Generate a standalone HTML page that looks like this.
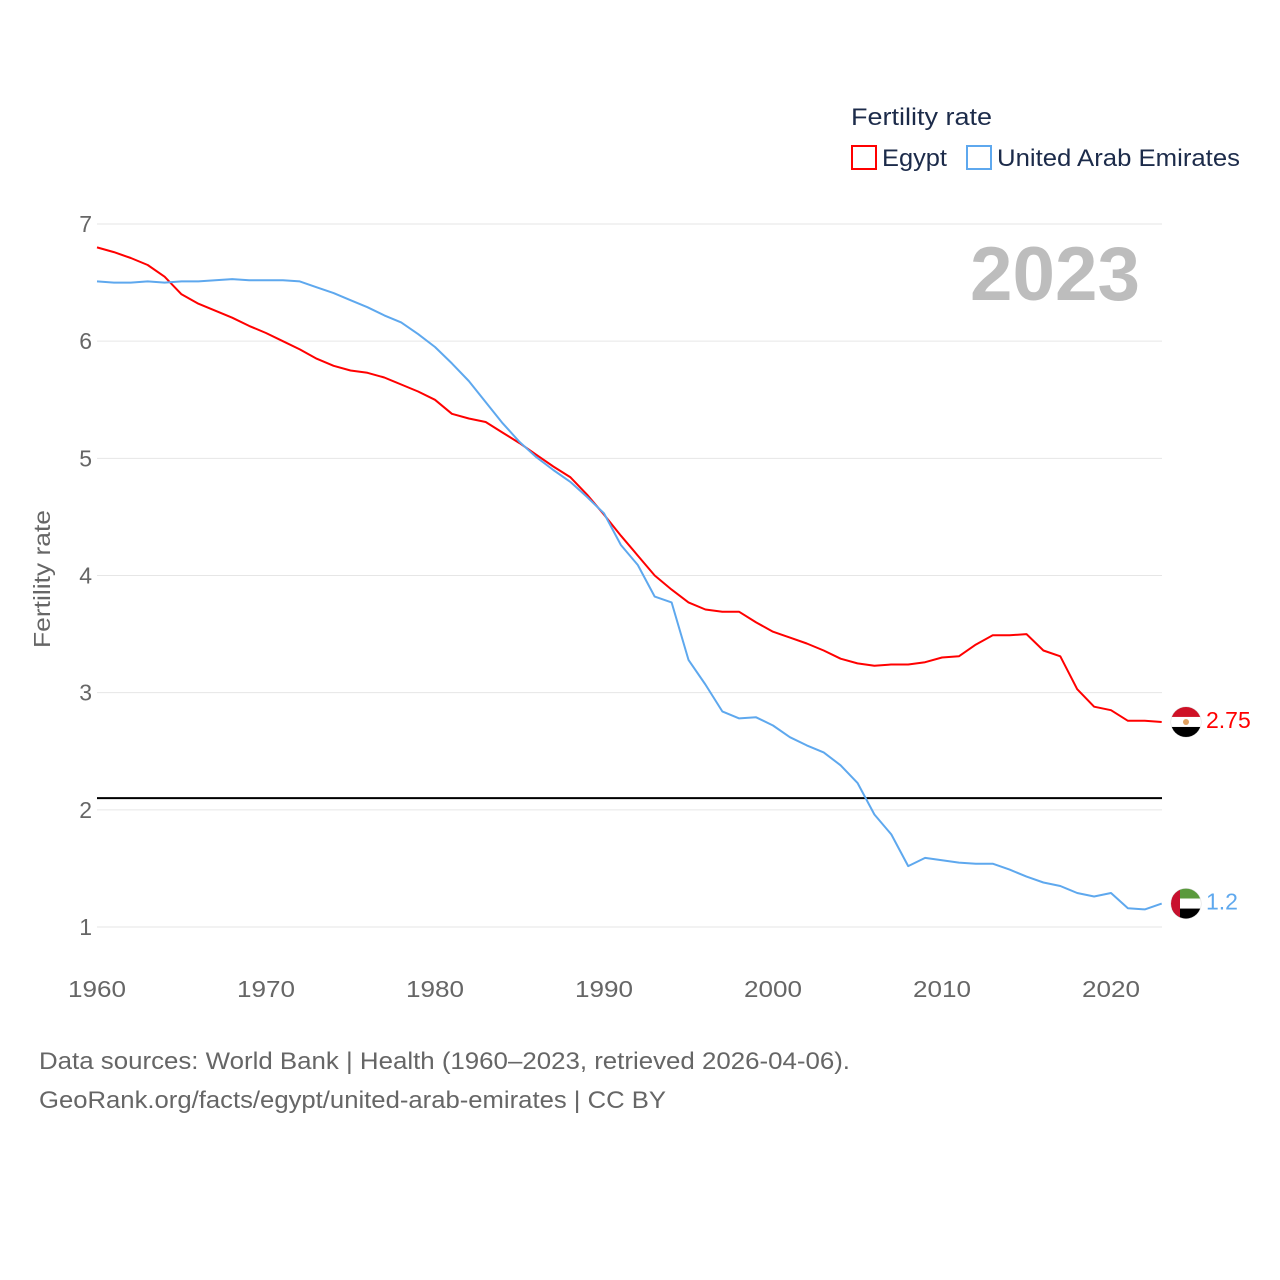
<!DOCTYPE html>
<html><head><meta charset="utf-8">
<style>
body{margin:0;background:#fff;font-family:"Liberation Sans",sans-serif;}
#wrap{position:relative;width:1280px;height:1280px;overflow:hidden;}
</style></head>
<body>
<div id="wrap">
<svg id="chart" width="1280" height="1280" xmlns="http://www.w3.org/2000/svg"></svg>
</div>
<script>
const years = [];
for (let y = 1960; y <= 2023; y++) years.push(y);
const egypt = [6.80,6.76,6.71,6.65,6.55,6.40,6.32,6.26,6.20,6.13,6.07,6.00,5.93,5.85,5.79,5.75,5.73,5.69,5.63,5.57,5.50,5.38,5.34,5.31,5.22,5.13,5.03,4.93,4.84,4.69,4.52,4.34,4.17,4.00,3.88,3.77,3.71,3.69,3.69,3.60,3.52,3.47,3.42,3.36,3.29,3.25,3.23,3.24,3.24,3.26,3.30,3.31,3.41,3.49,3.49,3.50,3.36,3.31,3.03,2.88,2.85,2.76,2.76,2.75];
const uae = [6.51,6.50,6.50,6.51,6.50,6.51,6.51,6.52,6.53,6.52,6.52,6.52,6.51,6.46,6.41,6.35,6.29,6.22,6.16,6.06,5.95,5.81,5.66,5.48,5.30,5.14,5.01,4.90,4.80,4.67,4.53,4.26,4.09,3.82,3.77,3.28,3.07,2.84,2.78,2.79,2.72,2.62,2.55,2.49,2.38,2.23,1.96,1.79,1.52,1.59,1.57,1.55,1.54,1.54,1.49,1.43,1.38,1.35,1.29,1.26,1.29,1.16,1.15,1.20];
const yTicks = [1,2,3,4,5,6,7];
const xTicks = [1960,1970,1980,1990,2000,2010,2020];
const refLine = 2.1;

const NS = "http://www.w3.org/2000/svg";
const svg = document.getElementById('chart');
const X = v => 97 + (v - 1960) * (1111 - 97) / 60;
const Y = v => 927 - (v - 1) * (927 - 224) / 6;
function mk(tag, attrs, parent) {
  const e = document.createElementNS(NS, tag);
  for (const k in attrs) e.setAttribute(k, attrs[k]);
  (parent || svg).appendChild(e);
  return e;
}
function txt(s, attrs) { const t = mk('text', attrs); t.textContent = s; return t; }

yTicks.forEach(v => {
  const l = mk('line', {x1: 97, x2: 1162, y1: Y(v), y2: Y(v), stroke: '#e6e6e6', 'stroke-width': 1});
  
  
  const t = txt(String(v), {x: 92, y: Y(v) + 8, 'text-anchor': 'end', 'font-size': 23, fill: '#666'});
  
  
});
xTicks.forEach(v => {
  const t = txt(String(v), {x: X(v), y: 997, 'text-anchor': 'middle', 'font-size': 23, fill: '#666', textLength: 58, lengthAdjust: 'spacingAndGlyphs'});
  
  
});
const yt = txt('Fertility rate', {x: 0, y: 0, transform: 'translate(50,579) rotate(-90)', 'text-anchor': 'middle', 'font-size': 23, fill: '#666', textLength: 138, lengthAdjust: 'spacingAndGlyphs'});



const rl = mk('line', {x1: 97, x2: 1162, y1: Y(refLine), y2: Y(refLine), stroke: '#000', 'stroke-width': 2});



const yr = txt('2023', {x: 1140, y: 300, 'text-anchor': 'end', 'font-size': 76, 'font-weight': 'bold', fill: '#bdbdbd', textLength: 170, lengthAdjust: 'spacingAndGlyphs'});



function series(vals, color, name) {
  const d = vals.map((v, i) => (i ? 'L' : 'M') + X(years[i]).toFixed(1) + ',' + Y(v).toFixed(1)).join('');
  const p = mk('path', {d: d, fill: 'none', stroke: color, 'stroke-width': 2, 'stroke-linejoin': 'round'});
  
  
  const last = vals[vals.length - 1];
  const cy = Y(last);
  const c = mk('circle', {cx: 1186, cy: cy, r: 15, fill: '#fff', stroke: '#ddd'});
  
  
  return {cy, last};
}
const e = series(egypt, '#ff0000', 'egypt');
const u = series(uae, '#5ea8ee', 'uae');
const ef = mk('g', {});


mk('clipPath', {id: 'ce'}, ef); mk('circle', {cx: 1186, cy: e.cy, r: 15}, ef.lastChild);
mk('rect', {x: 1171, y: e.cy - 15, width: 30, height: 10, fill: '#ce1126', 'clip-path': 'url(#ce)'}, ef);
mk('rect', {x: 1171, y: e.cy - 5, width: 30, height: 10, fill: '#fff', 'clip-path': 'url(#ce)'}, ef);
mk('rect', {x: 1171, y: e.cy + 5, width: 30, height: 10, fill: '#000', 'clip-path': 'url(#ce)'}, ef);
mk('circle', {cx: 1186, cy: e.cy, r: 3, fill: '#e0a060'}, ef);
const uf = mk('g', {});


mk('clipPath', {id: 'cu'}, uf); mk('circle', {cx: 1186, cy: u.cy, r: 15}, uf.lastChild);
mk('rect', {x: 1171, y: u.cy - 15, width: 30, height: 10, fill: '#5a9a3c', 'clip-path': 'url(#cu)'}, uf);
mk('rect', {x: 1171, y: u.cy - 5, width: 30, height: 10, fill: '#fff', 'clip-path': 'url(#cu)'}, uf);
mk('rect', {x: 1171, y: u.cy + 5, width: 30, height: 10, fill: '#000', 'clip-path': 'url(#cu)'}, uf);
mk('rect', {x: 1171, y: u.cy - 15, width: 9, height: 30, fill: '#c8102e', 'clip-path': 'url(#cu)'}, uf);
const el = txt(String(e.last), {x: 1206, y: e.cy + 6, 'font-size': 23, fill: '#ff0000'});


const ul = txt(String(u.last), {x: 1206, y: u.cy + 6, 'font-size': 23, fill: '#5ea8ee'});



const lt = txt('Fertility rate', {x: 851, y: 125, 'font-size': 24, fill: '#1c2b4a', textLength: 141, lengthAdjust: 'spacingAndGlyphs'});


const l1 = mk('rect', {x: 852, y: 146, width: 24, height: 23, fill: 'none', stroke: '#ff0000', 'stroke-width': 2});


const l1t = txt('Egypt', {x: 882, y: 166, 'font-size': 24, fill: '#1c2b4a', textLength: 65, lengthAdjust: 'spacingAndGlyphs'});


const l2 = mk('rect', {x: 967, y: 146, width: 24, height: 23, fill: 'none', stroke: '#5ea8ee', 'stroke-width': 2});


const l2t = txt('United Arab Emirates', {x: 997, y: 166, 'font-size': 24, fill: '#1c2b4a', textLength: 243, lengthAdjust: 'spacingAndGlyphs'});



const f1 = txt('Data sources: World Bank | Health (1960–2023, retrieved 2026-04-06).', {x: 39, y: 1069, 'font-size': 24, fill: '#666', textLength: 811, lengthAdjust: 'spacingAndGlyphs'});


const f2 = txt('GeoRank.org/facts/egypt/united-arab-emirates | CC BY', {x: 39, y: 1108, 'font-size': 24, fill: '#666', textLength: 627, lengthAdjust: 'spacingAndGlyphs'});


</script>
</body></html>
